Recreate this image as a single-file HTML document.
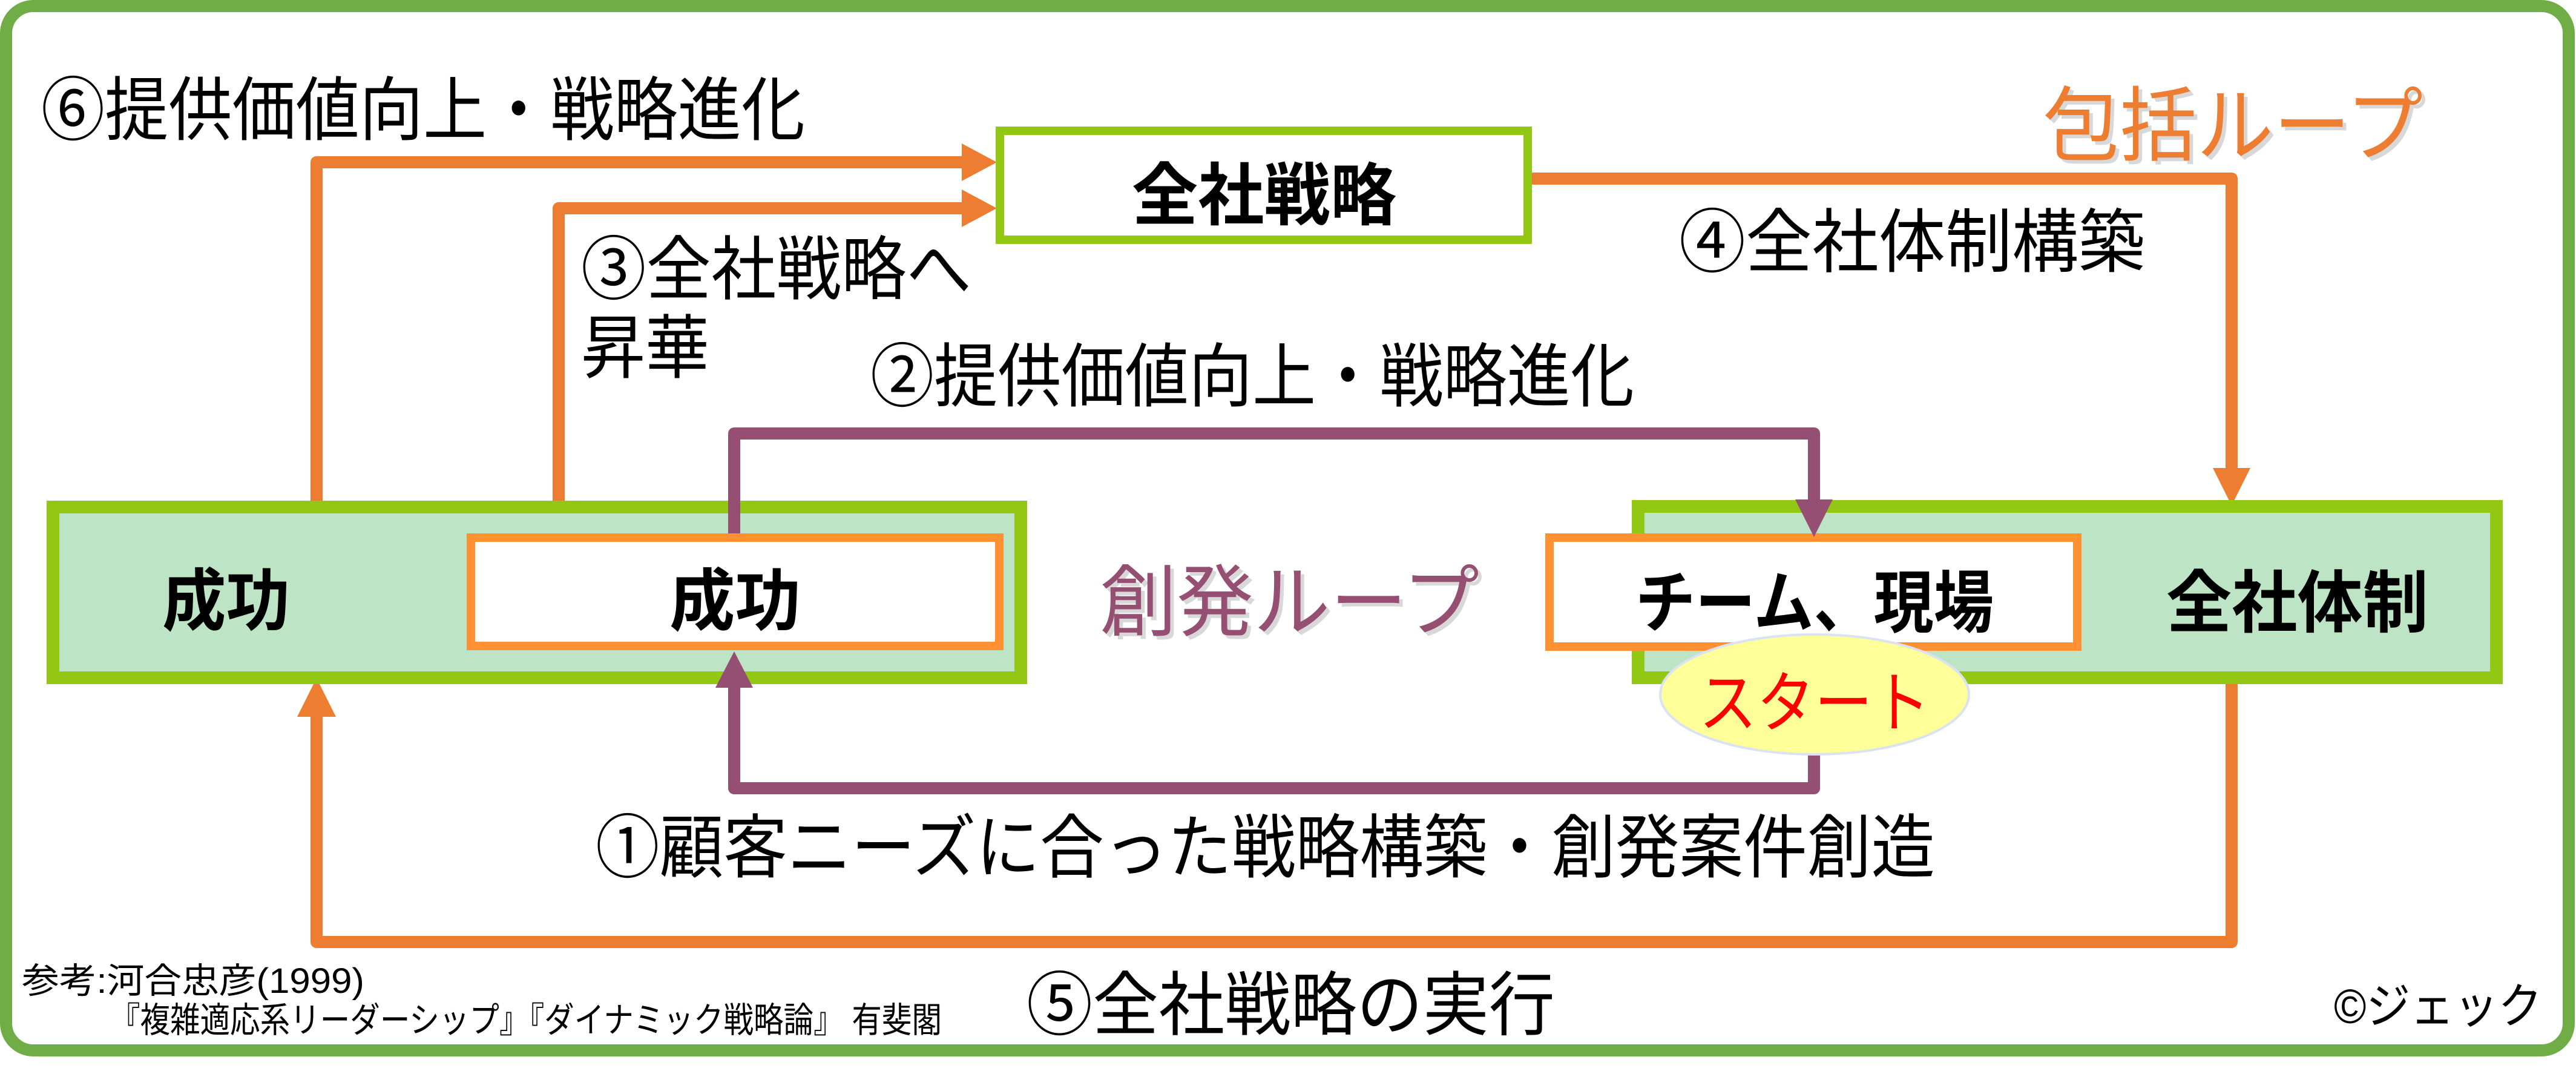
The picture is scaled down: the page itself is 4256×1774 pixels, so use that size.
<!DOCTYPE html>
<html><head><meta charset="utf-8">
<style>
html,body{margin:0;padding:0;background:#fff;}
svg{display:block;}
text{font-family:"Liberation Sans","Noto Sans CJK JP",sans-serif;}
</style></head>
<body>
<svg width="4256" height="1774" viewBox="0 0 4256 1774" xmlns="http://www.w3.org/2000/svg">
<rect width="4256" height="1774" fill="#fff"/>
<!-- outer border -->
<rect x="10" y="10" width="4234" height="1725" rx="45" ry="45" fill="none" stroke="#70AD47" stroke-width="20"/>

<!-- orange connectors -->
<g fill="none" stroke="#ED7D31" stroke-width="20" stroke-linejoin="round">
  <polyline points="523,827 523,268 1595,268"/>
  <polyline points="923,881 923,344 1595,344"/>
  <polyline points="2531,295 3687,295 3687,780"/>
  <polyline points="3687,1130 3687,1556 523,1556 523,1180"/>
</g>
<g fill="#ED7D31">
  <polygon points="1589,237 1647,268 1589,299"/>
  <polygon points="1589,313 1647,344 1589,375"/>
  <polygon points="3656,773 3718,773 3687,835"/>
  <polygon points="491,1184 555,1184 523,1120"/>
</g>

<!-- left green box -->
<rect x="87.5" y="837.5" width="1599" height="282" fill="#BCE4C5" stroke="#92C814" stroke-width="21"/>
<!-- right green box -->
<rect x="2706.5" y="836.5" width="1418" height="283" fill="#BCE4C5" stroke="#92C814" stroke-width="21"/>

<!-- purple connectors -->
<g fill="none" stroke="#954F72" stroke-width="20" stroke-linejoin="round">
  <polyline points="1213,881 1213,716 2997,716 2997,830"/>
  <polyline points="2997,1240 2997,1302 1213,1302 1213,1130"/>
</g>

<!-- orange inner boxes -->
<rect x="778" y="888" width="873" height="179" fill="#fff" stroke="#FF9133" stroke-width="14"/>
<rect x="2560" y="888" width="872" height="180" fill="#fff" stroke="#FF9133" stroke-width="14"/>

<g fill="#954F72">
  <polygon points="2966,825 3028,825 2997,887"/>
  <polygon points="1182,1136 1244,1136 1213,1076"/>
</g>

<!-- corporate strategy box -->
<rect x="1652" y="216" width="872" height="180" fill="#fff" stroke="#92C814" stroke-width="14"/>

<!-- start ellipse -->
<ellipse cx="2998" cy="1147" rx="255" ry="99" fill="#FFFF99" stroke="#DAE3F3" stroke-width="4"/>

<!-- texts -->
<g font-size="115" fill="#000">
  <text x="68" y="222" textLength="1262" lengthAdjust="spacingAndGlyphs">⑥提供価値向上・戦略進化</text>
  <text x="960" y="485" textLength="645" lengthAdjust="spacingAndGlyphs">③全社戦略へ</text>
  <text x="960" y="615" textLength="212" lengthAdjust="spacingAndGlyphs">昇華</text>
  <text x="1438" y="662" textLength="1262" lengthAdjust="spacingAndGlyphs">②提供価値向上・戦略進化</text>
  <text x="2774" y="440" textLength="770" lengthAdjust="spacingAndGlyphs">④全社体制構築</text>
  <text x="984" y="1440" textLength="2213" lengthAdjust="spacingAndGlyphs">①顧客ニーズに合った戦略構築・創発案件創造</text>
  <text x="1696" y="1700" textLength="873" lengthAdjust="spacingAndGlyphs">⑤全社戦略の実行</text>
</g>

<g font-size="112" font-weight="bold" fill="#000">
  <text x="1870" y="362" textLength="437" lengthAdjust="spacingAndGlyphs">全社戦略</text>
  <text x="268" y="1032" textLength="211" lengthAdjust="spacingAndGlyphs">成功</text>
  <text x="1106" y="1032" textLength="217" lengthAdjust="spacingAndGlyphs">成功</text>
  <text x="2702" y="1035" textLength="592" lengthAdjust="spacingAndGlyphs">チーム、現場</text>
  <text x="3579" y="1035" textLength="433" lengthAdjust="spacingAndGlyphs">全社体制</text>
</g>

<!-- loop titles with subtle shadow -->
<text x="3381" y="261" font-size="135" fill="#C8C8C8" opacity="0.7" textLength="628" lengthAdjust="spacingAndGlyphs">包括ループ</text>
<text x="3375" y="255" font-size="135" fill="#ED7D31" textLength="628" lengthAdjust="spacingAndGlyphs">包括ループ</text>
<text x="1823" y="1046" font-size="130" fill="#C8C8C8" opacity="0.7" textLength="627" lengthAdjust="spacingAndGlyphs">創発ループ</text>
<text x="1817" y="1040" font-size="130" fill="#954F72" textLength="627" lengthAdjust="spacingAndGlyphs">創発ループ</text>

<text x="2807" y="1200" font-size="110" fill="#FF0000" textLength="382" lengthAdjust="spacingAndGlyphs">スタート</text>

<g font-size="58" fill="#000">
  <text x="36" y="1640" textLength="566" lengthAdjust="spacingAndGlyphs">参考:河合忠彦(1999)</text>
  <text x="182" y="1705" textLength="1374" lengthAdjust="spacingAndGlyphs">『複雑適応系リーダーシップ』『ダイナミック戦略論』 有斐閣</text>
</g>
<text x="3856" y="1690" font-size="80" fill="#000" textLength="344" lengthAdjust="spacingAndGlyphs">©ジェック</text>
</svg>
</body></html>
